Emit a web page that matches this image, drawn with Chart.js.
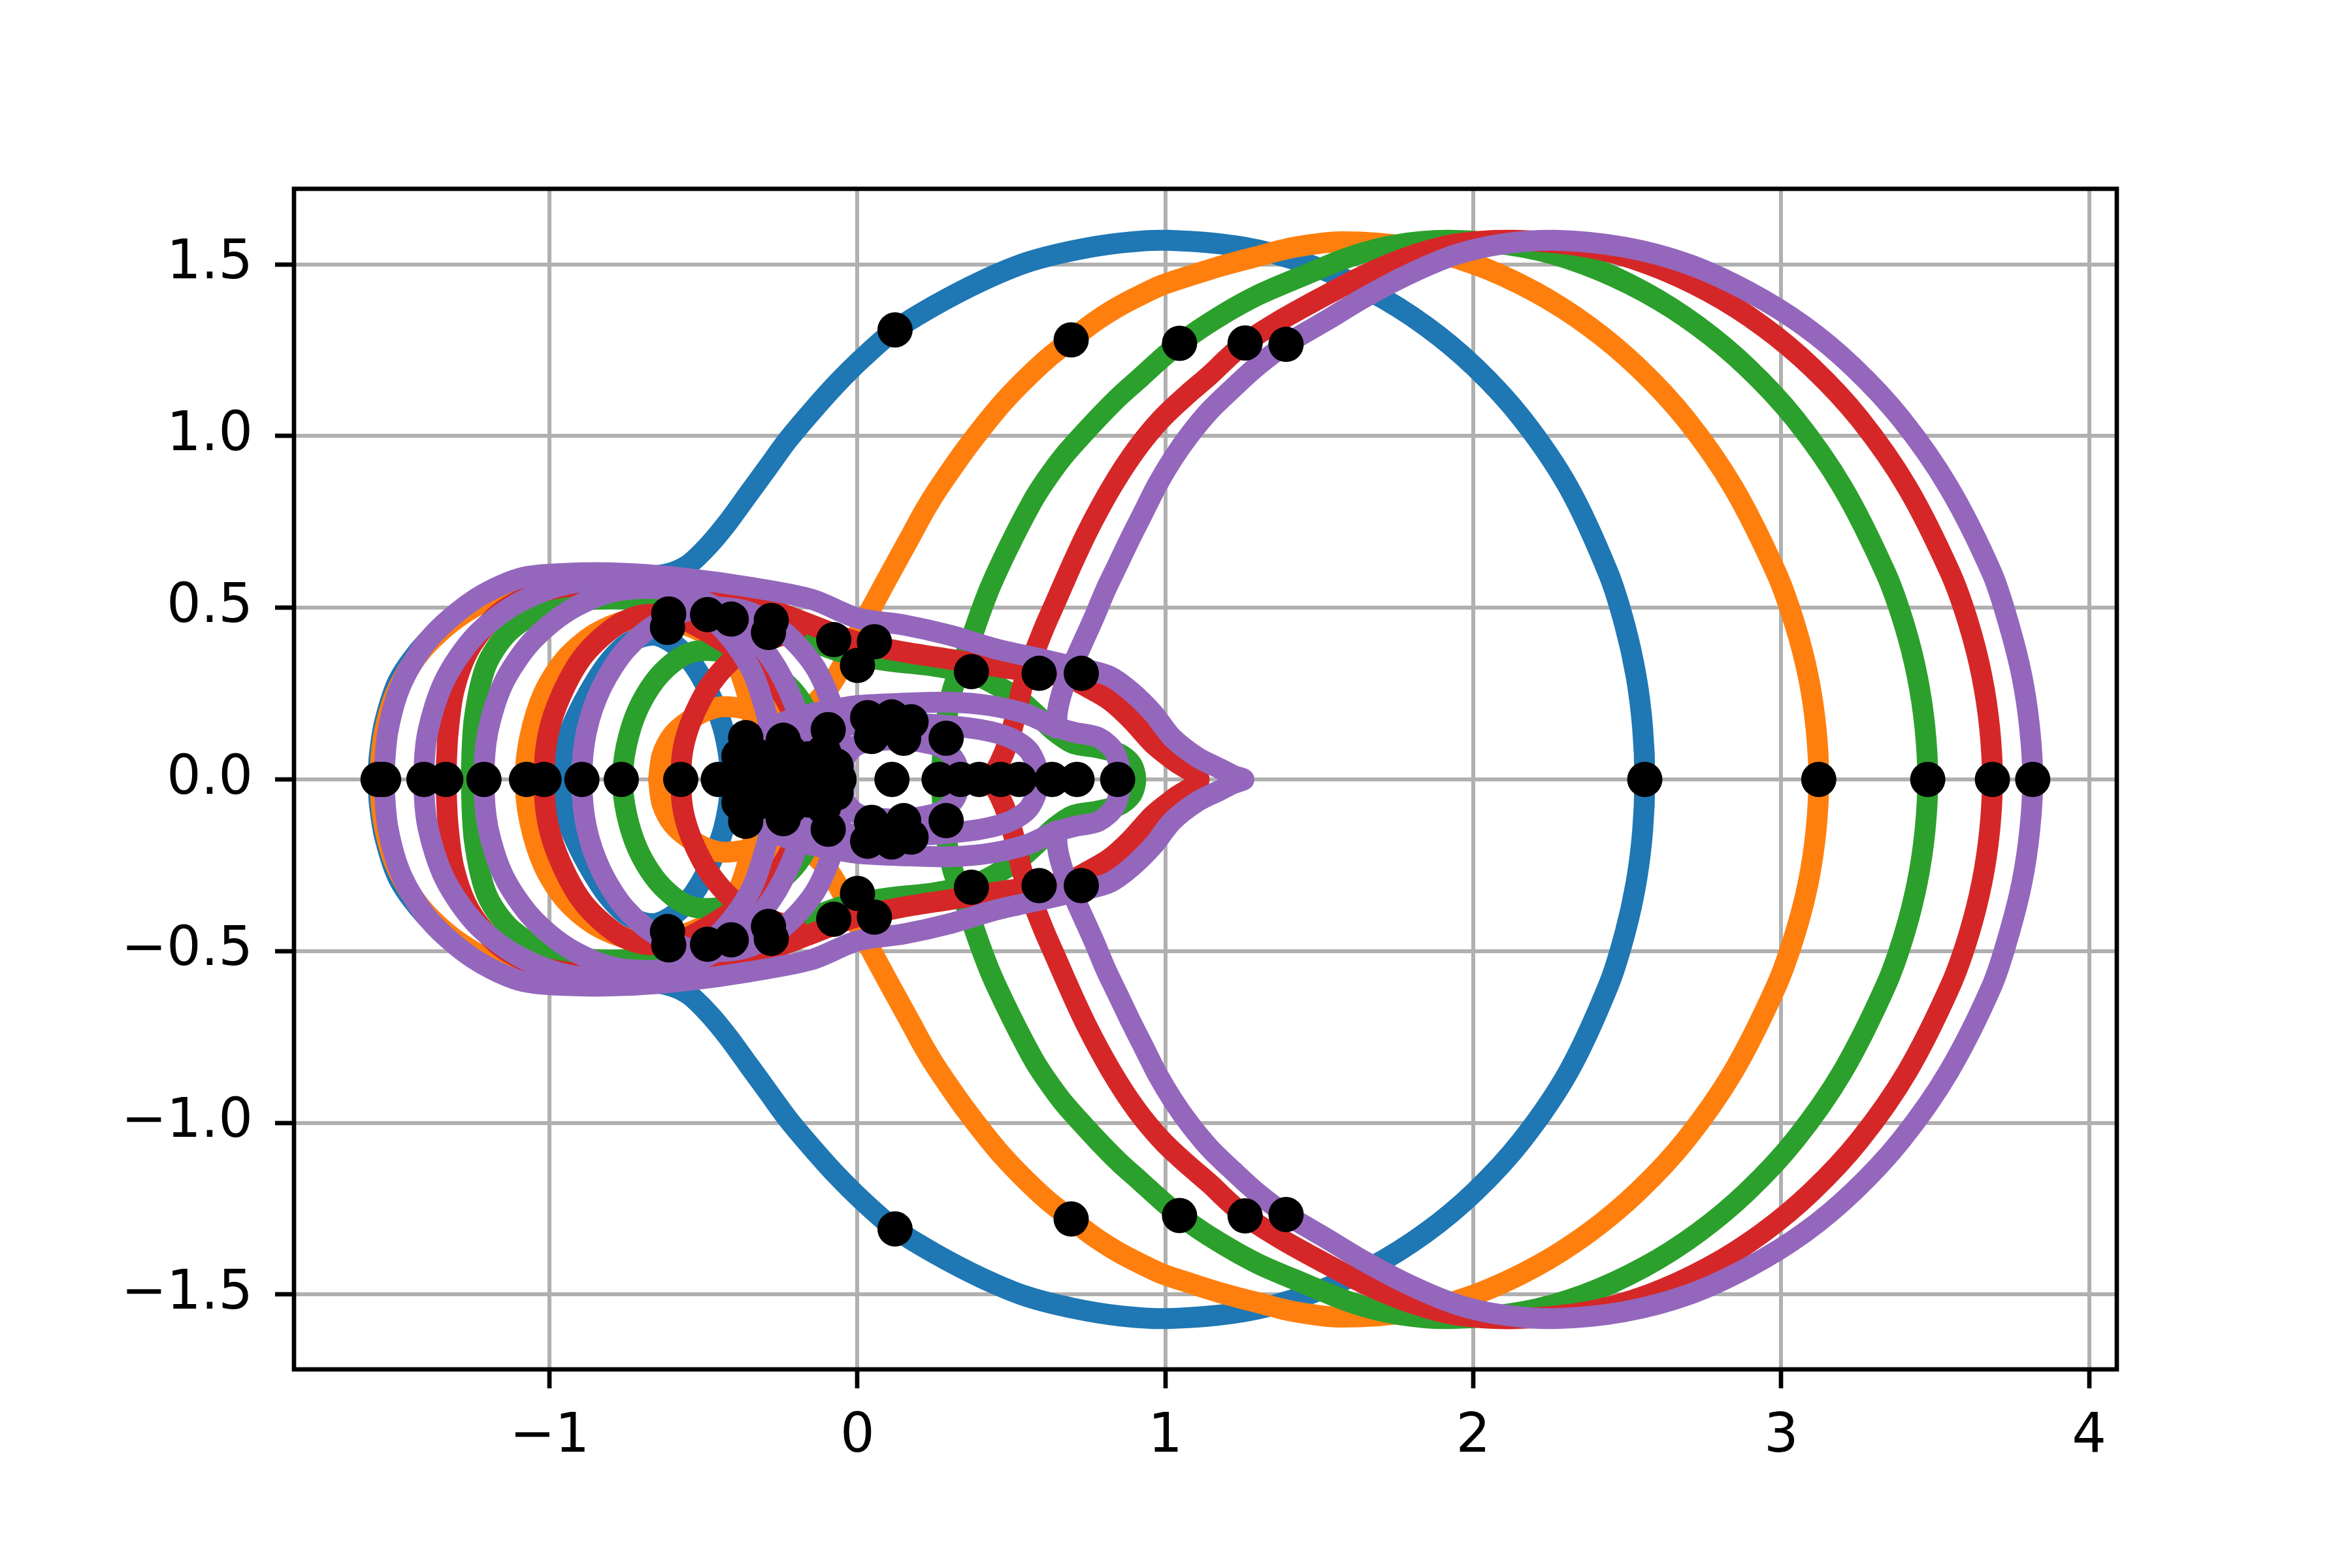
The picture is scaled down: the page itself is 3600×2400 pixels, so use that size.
<!DOCTYPE html>
<html lang="en">
<head>
    <meta charset="UTF-8">
    <title>Nyquist curves</title>
    <script src="https://cdn.jsdelivr.net/npm/chart.js"></script>
    <style>
        body { margin: 0; background: #ffffff; }
        canvas { display: block; }
    </style>
</head>
<body>
    <canvas id="plot" width="3600" height="2400"></canvas>

    <script>
        // tick labels
        const xTicks = [-1, 0, 1, 2, 3, 4];
        const yTicks = [-1.5, -1.0, -0.5, 0.0, 0.5, 1.0, 1.5];

        // upper half of each curve (the plot is mirror symmetric about y = 0)
        const blueOuter = [[2.557,0],[2.55,0.15],[2.529,0.3],[2.492,0.45],[2.439,0.6],[2.31,0.85],[2.159,1.05],[2.006,1.2],[1.846,1.32],[1.668,1.42],[1.465,1.5],[1.254,1.55],[1.007,1.57],[0.85,1.562],[0.7,1.54],[0.548,1.505],[0.4,1.45],[0.25,1.38],[0.122,1.309],[0.02,1.23],[-0.07,1.15],[-0.15,1.07],[-0.225,0.99],[-0.29,0.91],[-0.355,0.83],[-0.42,0.75],[-0.485,0.68],[-0.55,0.625],[-0.62,0.598],[-0.72,0.59],[-0.85,0.592],[-1.0,0.585],[-1.15,0.555],[-1.28,0.49],[-1.40,0.40],[-1.49,0.29],[-1.535,0.17],[-1.553,0.07],[-1.557,0]];
        const blueInner = [[-0.965,0],[-0.955,0.08],[-0.925,0.16],[-0.875,0.25],[-0.81,0.34],[-0.74,0.40],[-0.66,0.42],[-0.59,0.39],[-0.53,0.33],[-0.48,0.25],[-0.44,0.16],[-0.42,0.08],[-0.41,0]];

        const orangeOuter = [[3.122,0],[3.113,0.15],[3.088,0.3],[3.045,0.45],[2.985,0.6],[2.845,0.85],[2.69,1.05],[2.535,1.2],[2.375,1.32],[2.2,1.42],[2.005,1.5],[1.8,1.55],[1.572,1.566],[1.42,1.55],[1.294,1.522],[1.18,1.495],[1.07,1.464],[0.99,1.44],[0.921,1.411],[0.85,1.378],[0.787,1.343],[0.74,1.313],[0.694,1.28],[0.62,1.228],[0.548,1.168],[0.475,1.1],[0.41,1.03],[0.35,0.96],[0.295,0.89],[0.25,0.83],[0.21,0.77],[0.175,0.712],[0.14,0.655],[0.105,0.598],[0.07,0.54],[0.037,0.485],[0.005,0.43],[-0.025,0.375],[-0.055,0.322],[-0.095,0.265],[-0.15,0.215],[-0.22,0.195],[-0.32,0.2],[-0.43,0.212],[-0.49,0.2],[-0.55,0.17],[-0.6,0.13],[-0.635,0.07],[-0.646,0]];
        const orangeBig = [[-1.55,0],[-1.54,0.12],[-1.5,0.25],[-1.42,0.37],[-1.3,0.47],[-1.15,0.545],[-1.0,0.58],[-0.85,0.59],[-0.7,0.575],[-0.58,0.53],[-0.48,0.45],[-0.4,0.35],[-0.35,0.22],[-0.33,0.1],[-0.325,0]];
        const orangeMid = [[-1.079,0],[-1.065,0.12],[-1.02,0.25],[-0.95,0.35],[-0.86,0.42],[-0.76,0.46],[-0.65,0.47],[-0.53,0.44],[-0.42,0.38],[-0.33,0.29],[-0.27,0.19],[-0.24,0.09],[-0.235,0]];

        const greenOuter = [[3.476,0],[3.467,0.15],[3.442,0.3],[3.40,0.45],[3.34,0.6],[3.2,0.85],[3.045,1.05],[2.89,1.2],[2.73,1.32],[2.555,1.42],[2.36,1.5],[2.16,1.55],[1.926,1.57],[1.75,1.557],[1.6,1.522],[1.443,1.465],[1.3,1.41],[1.17,1.345],[1.046,1.27],[0.98,1.22],[0.921,1.172],[0.85,1.115],[0.787,1.058],[0.725,0.998],[0.668,0.94],[0.62,0.882],[0.578,0.825],[0.54,0.763],[0.504,0.7],[0.465,0.628],[0.429,0.556],[0.398,0.483],[0.37,0.411],[0.34,0.338],[0.31,0.265],[0.29,0.18],[0.278,0.09],[0.272,0]];
        const greenCap = [[0.904,0],[0.89,0.045],[0.85,0.075],[0.78,0.092],[0.70,0.105],[0.64,0.14],[0.593,0.179],[0.53,0.23],[0.46,0.27],[0.38,0.305],[0.25,0.33],[0.1,0.345],[-0.05,0.37],[-0.2,0.42],[-0.4,0.48],[-0.6,0.515],[-0.75,0.525],[-0.887,0.522],[-1.03,0.49],[-1.135,0.427],[-1.206,0.331],[-1.245,0.173],[-1.255,0]];
        const greenInner = [[-0.763,0],[-0.75,0.1],[-0.715,0.2],[-0.66,0.285],[-0.6,0.34],[-0.54,0.37],[-0.47,0.375],[-0.38,0.36],[-0.29,0.32],[-0.21,0.26],[-0.16,0.19],[-0.13,0.1],[-0.12,0]];

        const redOuter = [[3.686,0],[3.677,0.15],[3.652,0.3],[3.61,0.45],[3.55,0.6],[3.41,0.85],[3.255,1.05],[3.1,1.2],[2.94,1.32],[2.765,1.42],[2.57,1.5],[2.37,1.55],[2.136,1.57],[1.95,1.56],[1.8,1.525],[1.65,1.47],[1.5,1.4],[1.37,1.335],[1.259,1.271],[1.2,1.225],[1.145,1.178],[1.07,1.12],[0.996,1.058],[0.93,0.99],[0.875,0.922],[0.828,0.855],[0.785,0.787],[0.746,0.72],[0.71,0.652],[0.674,0.58],[0.64,0.51],[0.608,0.445],[0.58,0.382],[0.555,0.322],[0.534,0.265],[0.515,0.19],[0.49,0.11],[0.46,0.045],[0.43,0]];
        const redTail = [[1.11,0],[1.032,0.052],[0.961,0.103],[0.89,0.173],[0.82,0.23],[0.748,0.268],[0.692,0.293],[0.6,0.31],[0.489,0.323],[0.3,0.35],[0.146,0.372],[0.0,0.40],[-0.15,0.45],[-0.3,0.5],[-0.5,0.545],[-0.7,0.565],[-0.9,0.565],[-1.05,0.54],[-1.17,0.48],[-1.26,0.38],[-1.31,0.26],[-1.33,0.13],[-1.337,0]];
        const redMid = [[-1.018,0],[-1.005,0.13],[-0.96,0.25],[-0.887,0.363],[-0.78,0.45],[-0.69,0.48],[-0.58,0.47],[-0.47,0.42],[-0.37,0.36],[-0.28,0.29],[-0.22,0.21],[-0.18,0.11],[-0.165,0]];
        const redInner = [[-0.574,0],[-0.568,0.08],[-0.55,0.145],[-0.52,0.21],[-0.484,0.268],[-0.427,0.331],[-0.36,0.38],[-0.28,0.41],[-0.2,0.43]];

        const purpleOuter = [[3.817,0],[3.807,0.15],[3.782,0.3],[3.74,0.45],[3.685,0.6],[3.545,0.85],[3.39,1.05],[3.235,1.2],[3.075,1.32],[2.895,1.42],[2.7,1.5],[2.49,1.55],[2.267,1.57],[2.1,1.56],[1.95,1.53],[1.8,1.475],[1.65,1.405],[1.52,1.335],[1.392,1.267],[1.30,1.205],[1.22,1.14],[1.145,1.075],[1.08,1.005],[1.025,0.935],[0.975,0.86],[0.93,0.78],[0.885,0.70],[0.845,0.625],[0.805,0.55],[0.77,0.475],[0.735,0.405],[0.7,0.335],[0.67,0.27],[0.65,0.2],[0.652,0.155],[0.7,0.138],[0.783,0.122],[0.835,0.08],[0.86,0]];
        const purpleTail = [[1.255,0],[1.22,0.012],[1.174,0.033],[1.103,0.065],[1.022,0.122],[0.961,0.192],[0.89,0.255],[0.82,0.3],[0.748,0.319],[0.6,0.35],[0.45,0.38],[0.3,0.42],[0.15,0.45],[0.0,0.47],[-0.15,0.525],[-0.35,0.56],[-0.55,0.585],[-0.75,0.6],[-0.95,0.6],[-1.1,0.585],[-1.25,0.52],[-1.39,0.41],[-1.48,0.28],[-1.525,0.14],[-1.539,0]];
        const purpleLoop1 = [[-1.408,0],[-1.395,0.14],[-1.34,0.29],[-1.24,0.42],[-1.11,0.51],[-0.96,0.565],[-0.8,0.58],[-0.65,0.56],[-0.52,0.5],[-0.42,0.42],[-0.34,0.31],[-0.29,0.17],[-0.27,0.07],[-0.265,0]];
        const purpleLoop2 = [[-1.213,0],[-1.2,0.14],[-1.15,0.28],[-1.06,0.4],[-0.94,0.49],[-0.8,0.545],[-0.65,0.555],[-0.5,0.52],[-0.38,0.45],[-0.28,0.35],[-0.21,0.23],[-0.17,0.11],[-0.16,0]];
        const purpleLoop3 = [[-0.895,0],[-0.88,0.14],[-0.83,0.27],[-0.75,0.38],[-0.64,0.46],[-0.5,0.5],[-0.36,0.49],[-0.24,0.43],[-0.14,0.33],[-0.08,0.21],[-0.05,0.1],[-0.04,0]];
        const purpleFish = [[-0.4,0],[-0.37,0.08],[-0.3,0.14],[-0.2,0.18],[-0.1,0.2],[0.0,0.215],[0.15,0.222],[0.3,0.225],[0.43,0.215],[0.55,0.19],[0.645,0.15]];
        const purpleInner = [[0.59,0],[0.56,0.08],[0.5,0.12],[0.4,0.145],[0.25,0.16],[0.1,0.165],[-0.05,0.155],[-0.2,0.13]];
        const purpleCore = [[0.33,0],[0.32,0.05],[0.28,0.09],[0.2,0.11],[0.1,0.115],[0.0,0.1],[-0.05,0.05],[-0.06,0]];

        // black markers: those above the axis (mirrored below) and those on it
        const markersUpper = [[0.122,1.309],[0.694,1.28],[1.046,1.27],[1.259,1.271],[1.392,1.267],
            [-0.613,0.482],[-0.617,0.443],[-0.487,0.48],[-0.41,0.467],[-0.28,0.463],[-0.289,0.428],[-0.077,0.407],[0.055,0.401],[0.0,0.332],[0.37,0.314],[0.59,0.309],[0.727,0.309],
            [-0.363,0.122],[-0.385,0.068],[-0.241,0.114],[-0.095,0.145],[0.033,0.18],[0.111,0.182],[0.174,0.168],[0.046,0.125],[0.15,0.12],[0.288,0.12],
            [-0.33,0.07],[-0.28,0.05],[-0.22,0.08],[-0.16,0.06],[-0.11,0.08],[-0.07,0.04]];
        const markersAxis = [-1.557,-1.539,-1.408,-1.337,-1.213,-1.075,-1.018,-0.895,-0.767,-0.574,-0.452,-0.40,-0.35,-0.30,-0.25,-0.2,-0.15,-0.10,-0.06,0.112,0.265,0.335,0.395,0.465,0.525,0.632,0.713,0.845,2.557,3.122,3.476,3.686,3.817];

        const curves = [
            { color: '#1f77b4', order: 5, segs: [blueOuter, blueInner] },
            { color: '#ff7f0e', order: 4, segs: [orangeOuter, orangeBig, orangeMid] },
            { color: '#2ca02c', order: 3, segs: [greenOuter, greenCap, greenInner] },
            { color: '#d62728', order: 2, segs: [redOuter, redTail, redMid, redInner] },
            { color: '#9467bd', order: 1, segs: [purpleOuter, purpleTail, purpleLoop1, purpleLoop2, purpleLoop3, purpleFish, purpleInner, purpleCore] }
        ];

        // join the mirrored lower half and the upper half through the axis point
        function fullPath(seg) {
            const lower = seg.slice().reverse().map(p => ({ x: p[0], y: -p[1] }));
            const upper = seg.slice(1).map(p => ({ x: p[0], y: p[1] }));
            return lower.concat(upper);
        }

        const datasets = [];
        curves.forEach(c => {
            c.segs.forEach(seg => {
                datasets.push({
                    data: fullPath(seg),
                    showLine: true,
                    borderColor: c.color,
                    borderWidth: 32,
                    borderCapStyle: 'round',
                    borderJoinStyle: 'round',
                    tension: 0.3,
                    pointRadius: 0,
                    fill: false,
                    order: c.order
                });
            });
        });

        const markerPts = markersAxis.map(x => ({ x: x, y: 0 }))
            .concat(markersUpper.map(p => ({ x: p[0], y: p[1] })))
            .concat(markersUpper.map(p => ({ x: p[0], y: -p[1] })));
        datasets.push({
            data: markerPts,
            showLine: false,
            pointRadius: 27,
            pointBackgroundColor: '#000000',
            pointBorderWidth: 0,
            order: 0
        });

        const frame = {
            id: 'frame',
            afterDatasetsDraw(chart) {
                const a = chart.chartArea, ctx = chart.ctx;
                ctx.save();
                ctx.strokeStyle = '#000000';
                ctx.lineWidth = 6.7;
                ctx.strokeRect(a.left, a.top, a.right - a.left, a.bottom - a.top);
                ctx.restore();
            }
        };

        const minus = s => s.replace('-', '\u2212');

        new Chart(document.getElementById('plot'), {
            type: 'scatter',
            data: { datasets: datasets },
            options: {
                responsive: false,
                devicePixelRatio: 1,
                animation: false,
                events: [],
                layout: { padding: { left: 0, top: 289, right: 360, bottom: 0 } },
                plugins: { legend: { display: false }, tooltip: { enabled: false } },
                scales: {
                    x: {
                        type: 'linear', min: -1.83, max: 4.09,
                        afterBuildTicks: s => { s.ticks = xTicks.map(v => ({ value: v })); },
                        afterFit: s => { s.height = 304; },
                        border: { display: false },
                        grid: { color: '#b0b0b0', lineWidth: 6, tickLength: 29, tickColor: '#000000', tickWidth: 6.7 },
                        ticks: {
                            color: '#000000', padding: 26, maxRotation: 0,
                            font: { family: 'DejaVu Sans', size: 83 },
                            callback: v => minus(String(v))
                        }
                    },
                    y: {
                        type: 'linear', min: -1.718, max: 1.72,
                        afterBuildTicks: s => { s.ticks = yTicks.map(v => ({ value: v })); },
                        afterFit: s => { s.width = 450; },
                        border: { display: false },
                        grid: { color: '#b0b0b0', lineWidth: 6, tickLength: 29, tickColor: '#000000', tickWidth: 6.7 },
                        ticks: {
                            color: '#000000', padding: 34,
                            font: { family: 'DejaVu Sans', size: 83 },
                            callback: v => minus(v.toFixed(1))
                        }
                    }
                }
            },
            plugins: [frame]
        });
    </script>
</body>
</html>
